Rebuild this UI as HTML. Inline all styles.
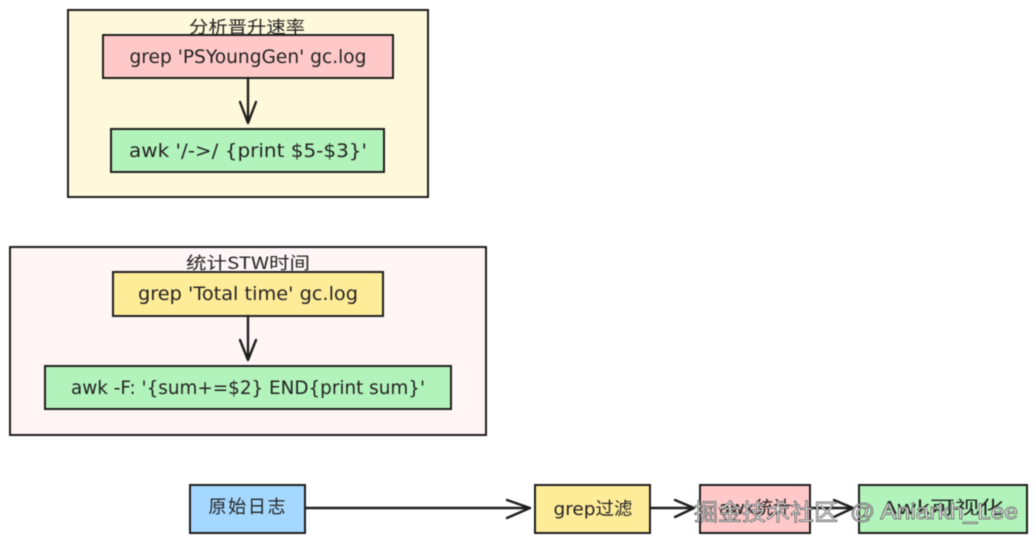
<!DOCTYPE html>
<html><head><meta charset="utf-8"><style>
html,body{margin:0;padding:0;background:#fff;width:1036px;height:542px;overflow:hidden}
svg{display:block;filter:blur(.4px)}
text{font-family:"DejaVu Sans","Noto Sans CJK SC",sans-serif;fill:#222;text-anchor:middle}
.c{font-family:"Noto Sans CJK SC","WenQuanYi Zen Hei",sans-serif}
rect{stroke:#1e1e1e;stroke-width:2}
path{fill:none;stroke:#1e1e1e;stroke-width:2.4;stroke-linecap:round;stroke-linejoin:round}
.w{fill:#eee;stroke:#555;stroke-width:.7}
</style></head><body>
<svg width="1036" height="542" viewBox="0 0 1036 542" xmlns="http://www.w3.org/2000/svg">
<rect x="68" y="10" width="360" height="187" fill="#fff9db"/>
<text class="c" x="247" y="33" font-size="17" textLength="116" lengthAdjust="spacingAndGlyphs">分析晋升速率</text>
<rect x="103" y="35" width="290" height="43" fill="#ffc9c9"/>
<text x="248" y="63" font-size="19" textLength="237" lengthAdjust="spacingAndGlyphs">grep 'PSYoungGen' gc.log</text>
<path d="M248 78V123M240 102L248 123L256 102"/>
<rect x="111" y="129" width="273" height="43" fill="#b2f2bb"/>
<text x="248" y="157" font-size="19" textLength="238" lengthAdjust="spacingAndGlyphs">awk '/-&gt;/ {print $5-$3}'</text>

<rect x="10" y="247" width="476" height="188" fill="#fff5f5"/>
<text class="c" x="248" y="269" font-size="17" textLength="124" lengthAdjust="spacingAndGlyphs">统计STW时间</text>
<rect x="113" y="272" width="270" height="44" fill="#ffec99"/>
<text x="248" y="300" font-size="19" textLength="220" lengthAdjust="spacingAndGlyphs">grep 'Total time' gc.log</text>
<path d="M248 316V360M240 340L248 360L256 340"/>
<rect x="45" y="366" width="406" height="43" fill="#b2f2bb"/>
<text x="248" y="394" font-size="19" textLength="354" lengthAdjust="spacingAndGlyphs">awk -F: '{sum+=$2} END{print sum}'</text>

<rect x="190" y="485" width="115" height="48" fill="#a5d8ff"/>
<text class="c" x="247" y="513" font-size="18" textLength="77">原始日志</text>
<path d="M305 508H530M507 500L530 508L507 518"/>
<rect x="535" y="485" width="115" height="48" fill="#ffec99"/>
<text x="593" y="515" font-size="18" textLength="79" lengthAdjust="spacingAndGlyphs">grep<tspan class="c">过滤</tspan></text>
<path d="M650 508H694M675 500L694 508L675 517"/>
<rect x="700" y="485" width="110" height="48" fill="#ffc9c9"/>
<text x="755" y="514" font-size="18" textLength="72" lengthAdjust="spacingAndGlyphs">awk<tspan class="c">统计</tspan></text>
<path d="M810 508H853M834 500L853 508L834 517"/>
<rect x="859" y="485" width="168" height="48" fill="#b2f2bb"/>
<text class="c" x="943" y="514" font-size="18" textLength="122" lengthAdjust="spacingAndGlyphs">Awk可视化</text>

<text class="c w" x="766" y="520" font-size="23" textLength="144" lengthAdjust="spacingAndGlyphs">掘金技术社区</text>
<text class="w" x="934" y="519" font-size="22" textLength="168" lengthAdjust="spacingAndGlyphs" style="font-family:'Liberation Sans',sans-serif">@ Aniarkh_Lee</text>
</svg>
</body></html>
